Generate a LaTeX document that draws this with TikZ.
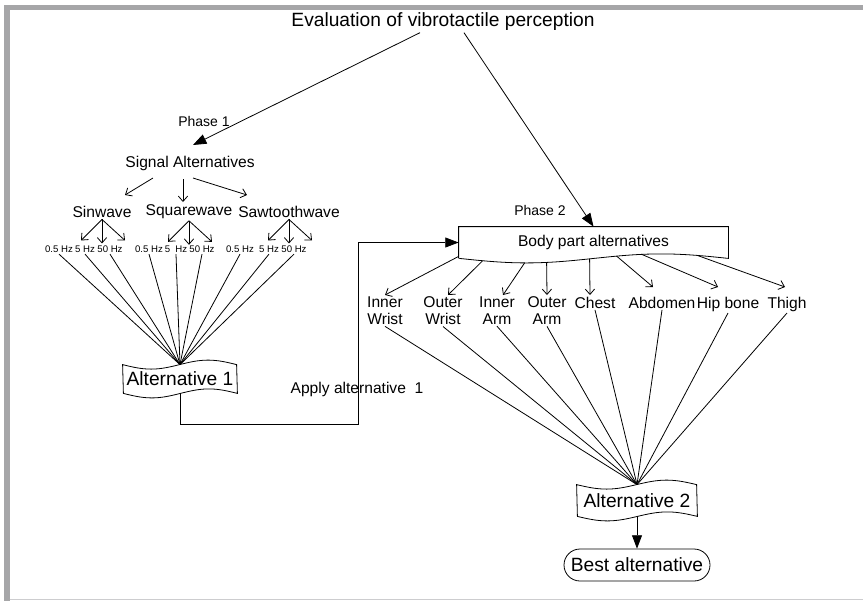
\documentclass[tikz,border=0pt]{standalone}
\usepackage{fontspec}
\setmainfont{Liberation Sans}
\usetikzlibrary{arrows.meta,calc}

\definecolor{framegray}{RGB}{166,166,168}
\definecolor{framelight}{RGB}{205,205,207}

% wavy box: name, position, quarter width (px), height (px), text
\newcommand{\wavybox}[5]{%
  \node[big, minimum width=#3*3pt, minimum height=#4*0.75pt] (#1) at #2 {#5};
  \draw (#1.north west) sin ++(#3,4.5) cos ++(#3,-4.5) sin ++(#3,-4.5) cos ++(#3,4.5)
     -- (#1.south east) sin ++(-#3,-4.5) cos ++(-#3,4.5) sin ++(-#3,4.5) cos ++(-#3,-4.5) -- cycle;
}

\begin{document}
\begin{tikzpicture}[x=0.75pt,y=-0.75pt,line width=0.6pt,
  big/.style={font=\fontsize{14.4pt}{17pt}\selectfont, inner sep=1pt},
  mid/.style={font=\fontsize{11.7pt}{12.75pt}\selectfont, inner sep=1pt},
  hz/.style={font=\fontsize{7.2pt}{8pt}\selectfont, inner sep=1pt},
  phase/.style={font=\fontsize{10.5pt}{12pt}\selectfont},
  thin arrow/.style={-{Straight Barb[length=4pt,width=7pt]}},
  fat arrow/.style={-{Triangle[length=10pt,width=7.5pt]}}]

\useasboundingbox (0,0) rectangle (863,601);
% frame
\fill[framegray] (4,5) rectangle (863,9.5);
\fill[framegray] (4,5) rectangle (9.5,601);
\draw[framelight,line width=1pt] (9.5,599.5) -- (863,599.5);

\node[big] (eval) at (443,22) {Evaluation of vibrotactile perception};

%phase 1
\node[phase] (ph1) at (204,121) {Phase 1};
\coordinate (p1tip) at (193,145);
\draw[fat arrow] ([xshift=-17.25pt]eval.south) -- (p1tip);

\node[mid] (sig) at (190,163) {Signal Alternatives};
\node[mid] (sin) at (102,212) {Sinwave};
\node[mid] (sqr) at (189,212) {Squarewave};
\node[mid] (saw) at (289,212) {Sawtoothwave};
\draw[thin arrow] ($(sig.south)+(-37,6)$) -- ++(-28,17);
\draw[thin arrow] ($(sig.south)+(-7,7)$) -- ++(0,23);
\draw[thin arrow] ($(sig.south)+(3,6)$) -- ++(54,17);
\foreach \w in {sin,sqr,saw} {
\draw[thin arrow] (\w.south) -- ++(-21,21);
\draw[thin arrow] (\w.south) -- ++(0,24);
\draw[thin arrow] (\w.south) -- ++(23,21);
}

\foreach \x/\t [count=\i] in {59/0.5 Hz,85/5 Hz,110/50 Hz,149/0.5 Hz,176/5~~Hz,202/50 Hz,240/0.5 Hz,269/5 Hz,294/50 Hz} {
\node[hz] (hz\i) at (\x,249) {\t};
}

\wavybox{alt1}{(180,379)}{28.5}{28}{Alternative 1}
\foreach \i in {1,...,9} \draw (hz\i.south) -- (alt1.north);

%phase 2
\node[mid, minimum width=201.75pt, minimum height=23.25pt] (body) at (593.5,242.5) {Body part alternatives};
\draw (body.south west) -- (body.north west) -- (body.north east) -- (body.south east)
  sin ++(-67.25,-4.5) cos ++(-67.25,4.5) sin ++(-67.25,4.5) cos ++(-67.25,-4.5);
\node[phase] (ph2) at (540,210) {Phase 2};
\draw[fat arrow] ([xshift=15.75pt]eval.south) -- (body.north);

\coordinate (bend) at (358,424);
\draw[fat arrow] (alt1.south) |- (bend) |- (body.west);
\node[mid] (apply) at (357,389) {Apply alternative~ 1};

\foreach \n/\x/\t in {iw/385/Inner\\Wrist, ow/443/Outer\\Wrist, ia/497/Inner\\Arm, oa/547/Outer\\Arm,
  ch/595/Chest, ab/662/Abdomen, hb/728/Hip bone, th/787/Thigh} {
\node[mid, anchor=north, align=center] (\n) at (\x,295) {\t};
}
\foreach \n/\dx/\dy/\ex/\ey in {iw/0/-2/0/0, ow/24/2.4/5/0, ia/66/4.5/6/0, oa/88/4/0/0,
  ch/131/0.4/-5/0, ab/158/-2.3/-9/-8, hb/183/-4.1/-10/-8, th/239/-2.9/-2/-8} {
\draw[thin arrow] ($(body.south west)+(\dx,\dy)$) -- ($(\n.north)+(\ex,\ey)$);
}

\wavybox{alt2}{(637,500.5)}{30}{31}{Alternative 2}
\foreach \n in {iw,ow,ia,oa,ch,ab,hb,th} \draw (\n.south) -- (alt2.north);

\node[big, draw, rounded corners=12pt, minimum width=109.5pt, minimum height=24pt] (best) at (637,565) {Best alternative};
\draw[fat arrow] (alt2.south) -- (best.north);
\end{tikzpicture}
\end{document}
